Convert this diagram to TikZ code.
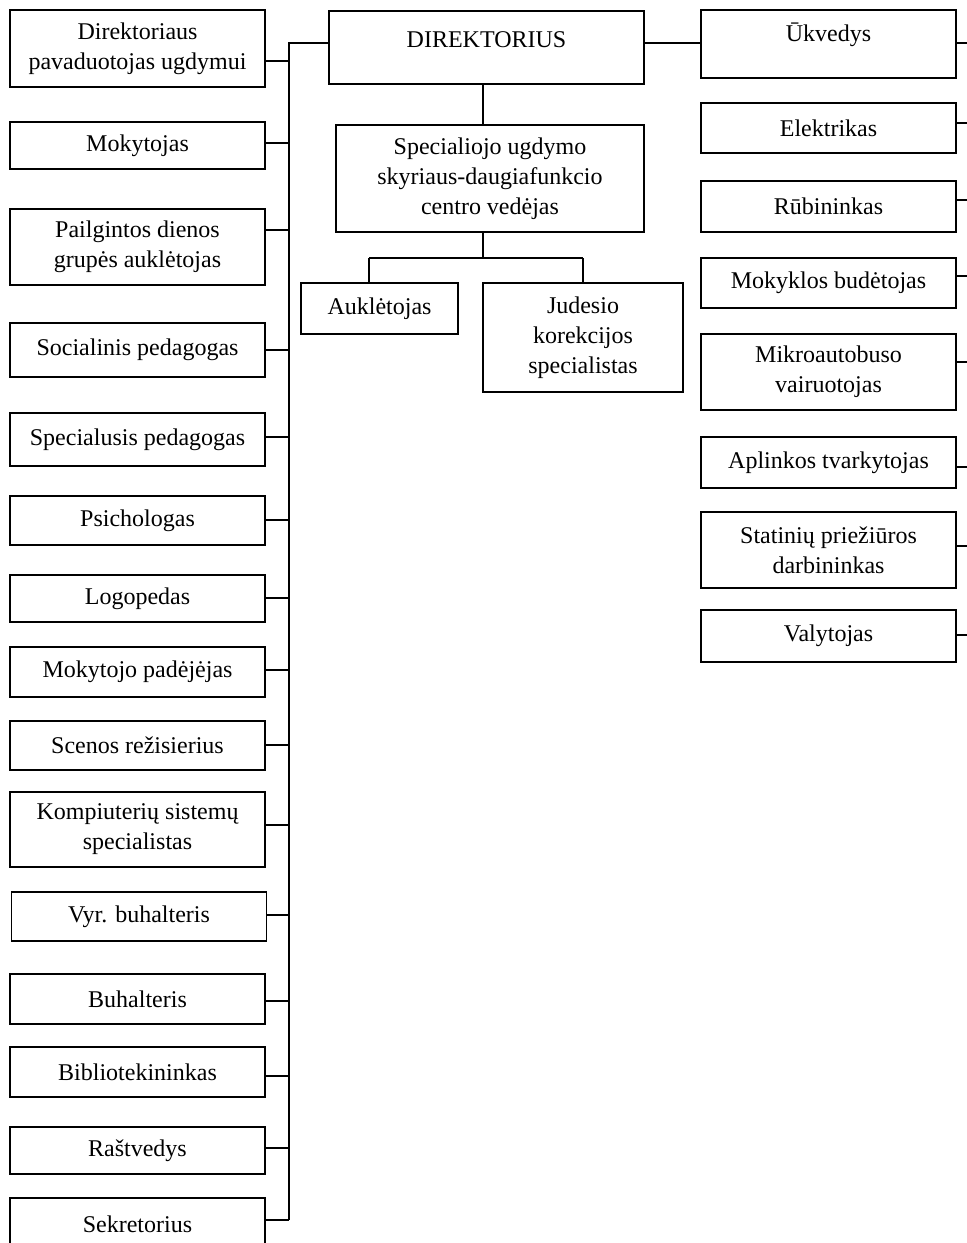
\documentclass[tikz,border=0pt]{standalone}
\usepackage{fontspec}
\setmainfont{Liberation Serif}
\begin{document}
\begin{tikzpicture}[x=1pt,y=-1pt,
  box/.style={draw, line width=1.2pt, align=center, inner sep=2pt, font=\fontsize{24}{30}\selectfont},
  lbox/.style={box, minimum width=255pt},
  conn/.style={line width=1.2pt}]
\clip (0,0) rectangle (967,1243);
\fill[white] (0,0) rectangle (967,1243);

% centre column
\node[box, minimum width=315pt, minimum height=73pt, text depth=15pt] (dir) at (486.5,47.5) {DIREKTORIUS};
\node[box, minimum width=308pt, minimum height=107pt] (sud) at (490,178.5) {Specialiojo ugdymo\\skyriaus-daugiafunkcio\\centro vedėjas};
\node[box, minimum width=157pt, minimum height=51pt] (aukl) at (379.5,308.5) {Auklėtojas};
\node[box, minimum width=200pt, minimum height=109pt] (jud) at (583,337.5) {Judesio\\korekcijos\\specialistas};

% left column
\node[lbox, minimum height=77pt] (dpu) at (137.5,48.5) {Direktoriaus\\pavaduotojas ugdymui};
\node[lbox, minimum height=47pt] (mok) at (137.5,145.5) {Mokytojas};
\node[lbox, minimum height=76pt] (pail) at (137.5,247) {Pailgintos dienos\\grupės auklėtojas};
\node[lbox, minimum height=54pt] (soc) at (137.5,350) {Socialinis pedagogas};
\node[lbox, minimum height=53pt] (spp) at (137.5,439.5) {Specialusis pedagogas};
\node[lbox, minimum height=49pt] (psi) at (137.5,520.5) {Psichologas};
\node[lbox, minimum height=47pt] (log) at (137.5,598.5) {Logopedas};
\node[lbox, minimum height=50pt] (mpad) at (137.5,672) {Mokytojo padėjėjas};
\node[lbox, minimum height=49pt] (scen) at (137.5,745.5) {Scenos režisierius};
\node[lbox, minimum height=75pt] (komp) at (137.5,829.5) {Kompiuterių sistemų\\specialistas};
\node[lbox, minimum height=49pt] (vyr) at (139,916.5) {Vyr. buhalteris};
\node[lbox, minimum height=50pt] (buh) at (137.5,999) {Buhalteris};
\node[lbox, minimum height=50pt] (bib) at (137.5,1072) {Bibliotekininkas};
\node[lbox, minimum height=47pt] (rast) at (137.5,1150.5) {Raštvedys};
\node[lbox, minimum height=52pt] (sekr) at (137.5,1224) {Sekretorius};

% right column
\node[lbox, minimum height=68pt, text depth=23pt] (ukv) at (828.5,44) {Ūkvedys};
\node[lbox, minimum height=50pt] (elek) at (828.5,128) {Elektrikas};
\node[lbox, minimum height=51pt] (rub) at (828.5,206.5) {Rūbininkas};
\node[lbox, minimum height=50pt] (mbud) at (828.5,283) {Mokyklos budėtojas};
\node[lbox, minimum height=76pt] (mikro) at (828.5,372) {Mikroautobuso\\vairuotojas};
\node[lbox, minimum height=51pt] (apl) at (828.5,462.5) {Aplinkos tvarkytojas};
\node[lbox, minimum height=76pt] (stat) at (828.5,550) {Statinių priežiūros\\darbininkas};
\node[lbox, minimum height=52pt] (valy) at (828.5,636) {Valytojas};

% left bus
\coordinate (bt) at (289,43);
\coordinate (bb) at (289,1220);
\draw[conn] (dir.west |- bt) -- (bt) -- (bb);
\coordinate (s1) at (289,61);
\coordinate (s2) at (289,143);
\coordinate (s3) at (289,230);
\coordinate (s4) at (289,350);
\coordinate (s5) at (289,437);
\coordinate (s6) at (289,520);
\coordinate (s7) at (289,598);
\coordinate (s8) at (289,670);
\coordinate (s9) at (289,745);
\coordinate (s10) at (289,825);
\coordinate (s11) at (289,915);
\coordinate (s12) at (289,1001);
\coordinate (s13) at (289,1076);
\coordinate (s14) at (289,1148);
\coordinate (s15) at (289,1220);
\draw[conn] (dpu.east |- s1) -- (s1);
\draw[conn] (mok.east |- s2) -- (s2);
\draw[conn] (pail.east |- s3) -- (s3);
\draw[conn] (soc.east |- s4) -- (s4);
\draw[conn] (spp.east |- s5) -- (s5);
\draw[conn] (psi.east |- s6) -- (s6);
\draw[conn] (log.east |- s7) -- (s7);
\draw[conn] (mpad.east |- s8) -- (s8);
\draw[conn] (scen.east |- s9) -- (s9);
\draw[conn] (komp.east |- s10) -- (s10);
\draw[conn] (vyr.east |- s11) -- (s11);
\draw[conn] (buh.east |- s12) -- (s12);
\draw[conn] (bib.east |- s13) -- (s13);
\draw[conn] (rast.east |- s14) -- (s14);
\draw[conn] (sekr.east |- s15) -- (s15);

% right stubs
\coordinate (r1) at (967,43);
\coordinate (r2) at (967,123);
\coordinate (r3) at (967,200);
\coordinate (r4) at (967,276);
\coordinate (r5) at (967,362);
\coordinate (r6) at (967,467);
\coordinate (r7) at (967,546);
\coordinate (r8) at (967,635);
\draw[conn] (dir.east |- r1) -- (ukv.west |- r1);
\draw[conn] (ukv.east |- r1) -- (r1);
\draw[conn] (elek.east |- r2) -- (r2);
\draw[conn] (rub.east |- r3) -- (r3);
\draw[conn] (mbud.east |- r4) -- (r4);
\draw[conn] (mikro.east |- r5) -- (r5);
\draw[conn] (apl.east |- r6) -- (r6);
\draw[conn] (stat.east |- r7) -- (r7);
\draw[conn] (valy.east |- r8) -- (r8);

% centre connectors
\coordinate (h) at (483,258);
\coordinate (hl) at (369,258);
\coordinate (hr) at (583,258);
\draw[conn] (dir.south -| h) -- (sud.north -| h);
\draw[conn] (sud.south -| h) -- (h);
\draw[conn] (hl) -- (hr);
\draw[conn] (hl) -- (aukl.north -| hl);
\draw[conn] (hr) -- (jud.north -| hr);
\end{tikzpicture}
\end{document}
